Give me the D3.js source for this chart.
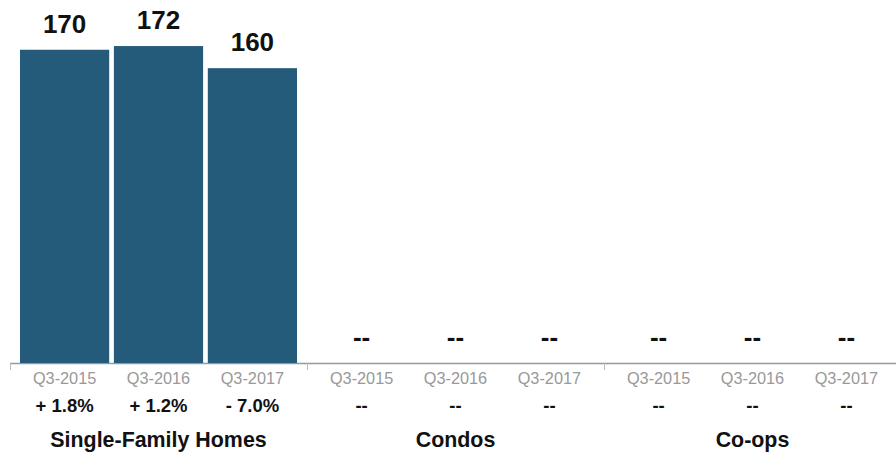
<!DOCTYPE html>
<html>
<head>
<meta charset="utf-8">
<script src="https://cdn.jsdelivr.net/npm/d3@7"></script>
<style>
  body { margin: 0; background: #fff; }
  text { font-family: "Liberation Sans", Arial, sans-serif; }
</style>
</head>
<body>
<div id="chart"></div>
<script>
const width = 896, height = 452;

// data (null = no data shown as "--")
const groups = ["Single-Family Homes", "Condos", "Co-ops"];
const quarters = ["Q3-2015", "Q3-2016", "Q3-2017"];
const sfhValues = [170, 172, 160];
const condoValues = [null, null, null];
const coopValues = [null, null, null];
const sfhChange = ["+ 1.8%", "+ 1.2%", "- 7.0%"];
const condoChange = ["--", "--", "--"];
const coopChange = ["--", "--", "--"];

const values = [sfhValues, condoValues, coopValues];
const changes = [sfhChange, condoChange, coopChange];

const baseY = 363;

const svg = d3.select("#chart")
  .append("svg")
    .attr("width", width)
    .attr("height", height);

// outer scale for the three groups
const xGroup = d3.scaleBand()
  .domain(groups)
  .range([10, 901])
  .padding(0);

// inner scale for the quarters inside each group
const xInner = d3.scaleBand()
  .domain(quarters)
  .range([10, xGroup.bandwidth() - 10])
  .paddingInner(0.05);

const y = d3.scaleLinear()
  .domain([0, 197])
  .range([baseY, 0]);

// axis line + ticks at group boundaries
svg.append("line")
  .attr("x1", 10).attr("x2", width)
  .attr("y1", baseY + 0.5).attr("y2", baseY + 0.5)
  .attr("stroke", "#999").attr("stroke-width", 1.5);

svg.selectAll(".gtick")
  .data(groups)
  .join("line")
    .attr("class", "gtick")
    .attr("x1", d => xGroup(d) + 0.5)
    .attr("x2", d => xGroup(d) + 0.5)
    .attr("y1", baseY)
    .attr("y2", baseY + 7)
    .attr("stroke", "#bbb");

groups.forEach((g, gi) => {
  const gEl = svg.append("g")
    .attr("transform", `translate(${xGroup(g)},0)`);

  const rows = quarters.map((q, i) => ({ q: q, v: values[gi][i], c: changes[gi][i] }));

  gEl.selectAll("rect")
    .data(rows.filter(d => d.v !== null))
    .join("rect")
      .attr("x", d => xInner(d.q))
      .attr("y", d => y(d.v))
      .attr("width", xInner.bandwidth())
      .attr("height", d => y(0) - y(d.v))
      .attr("fill", "#245b7a");

  // value labels on top ("--" when empty)
  gEl.selectAll(".val")
    .data(rows)
    .join("text")
      .attr("class", "val")
      .attr("x", d => xInner(d.q) + xInner.bandwidth() / 2)
      .attr("y", d => (d.v === null ? y(0) : y(d.v)) - 17)
      .attr("text-anchor", "middle")
      .attr("font-size", 26)
      .attr("font-weight", "bold")
      .attr("fill", "#111")
      .text(d => d.v === null ? "--" : d.v);

  // quarter labels
  gEl.selectAll(".q")
    .data(rows)
    .join("text")
      .attr("class", "q")
      .attr("x", d => xInner(d.q) + xInner.bandwidth() / 2)
      .attr("y", 384)
      .attr("text-anchor", "middle")
      .attr("font-size", 16.3)
      .attr("fill", "#999")
      .text(d => d.q);

  // percent change row
  gEl.selectAll(".chg")
    .data(rows)
    .join("text")
      .attr("class", "chg")
      .attr("x", d => xInner(d.q) + xInner.bandwidth() / 2)
      .attr("y", 412)
      .attr("text-anchor", "middle")
      .attr("font-size", 18.5)
      .attr("font-weight", "bold")
      .attr("fill", "#111")
      .text(d => d.c);

  gEl.append("text")
    .attr("x", xGroup.bandwidth() / 2)
    .attr("y", 447)
    .attr("text-anchor", "middle")
    .attr("font-size", 21.4)
    .attr("font-weight", "bold")
    .attr("fill", "#111")
    .text(g);
});
</script>
</body>
</html>
